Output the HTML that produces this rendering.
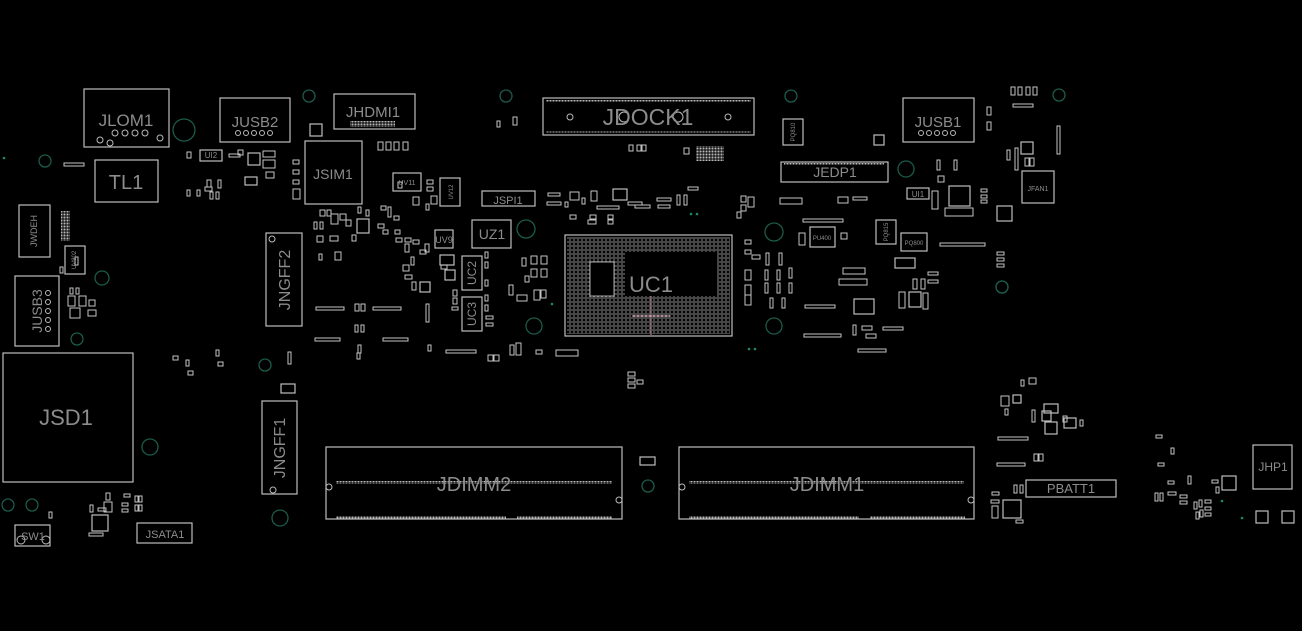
<!DOCTYPE html>
<html><head><meta charset="utf-8"><style>
html,body{margin:0;padding:0;background:#000;}
svg{display:block}
text{font-family:"Liberation Sans",sans-serif;fill:#8c8c8c}
</style></head><body>
<svg width="1302" height="631" viewBox="0 0 1302 631" xmlns="http://www.w3.org/2000/svg">
<defs>
<pattern id="bga" width="4" height="4" patternUnits="userSpaceOnUse"><circle cx="2" cy="2" r="1.2" fill="none" stroke="#aaa" stroke-width="0.6"/></pattern>
<pattern id="pins" width="3" height="3" patternUnits="userSpaceOnUse"><rect x="0.5" y="0.5" width="2" height="2" fill="#bbb"/></pattern>
</defs>
<rect width="1302" height="631" fill="#000"/>
<g fill="none" stroke="#1c5a4a" stroke-width="1.3">
<circle cx="184" cy="130" r="11"/><circle cx="45" cy="161" r="6"/><circle cx="102" cy="278" r="7"/><circle cx="309" cy="96" r="6"/>
<circle cx="506" cy="96" r="6"/><circle cx="791" cy="96" r="6"/><circle cx="1059" cy="95" r="6"/><circle cx="906" cy="169" r="8"/>
<circle cx="526" cy="229" r="9"/><circle cx="774" cy="232" r="9"/><circle cx="534" cy="326" r="8"/><circle cx="774" cy="326" r="8"/>
<circle cx="775" cy="329" r="0"/><circle cx="1002" cy="287" r="6"/><circle cx="265" cy="365" r="6"/><circle cx="150" cy="447" r="8"/>
<circle cx="280" cy="518" r="8"/><circle cx="8" cy="505" r="6"/><circle cx="32" cy="505" r="6"/><circle cx="648" cy="486" r="6"/>
<circle cx="77" cy="339" r="6"/><circle cx="1002" cy="287" r="6"/>
</g>
<g fill="#1c8a6a"><circle cx="4" cy="158" r="1.3"/><circle cx="691" cy="214" r="1.3"/><circle cx="697" cy="214" r="1.3"/><circle cx="552" cy="304" r="1.3"/><circle cx="1222" cy="501" r="1.3"/><circle cx="1242" cy="518" r="1.3"/><circle cx="749" cy="349" r="1.3"/><circle cx="755" cy="349" r="1.3"/></g>
<g fill="none" stroke="#bdbdbd" stroke-width="1.2">
<!-- main connectors -->
<rect x="84" y="89" width="85" height="58"/>
<rect x="220" y="98" width="70" height="44"/>
<rect x="334" y="94" width="81" height="35"/>
<rect x="543" y="98" width="211" height="37"/>
<rect x="903" y="98" width="71" height="44"/>
<rect x="95" y="160" width="63" height="42"/>
<rect x="305" y="141" width="57" height="63"/>
<rect x="781" y="162" width="107" height="20"/>
<rect x="19" y="205" width="31" height="52"/>
<rect x="15" y="276" width="44" height="70"/>
<rect x="266" y="233" width="36" height="93"/>
<rect x="3" y="353" width="130" height="129"/>
<rect x="262" y="401" width="35" height="93"/>
<rect x="326" y="447" width="296" height="72"/>
<rect x="679" y="447" width="295" height="72"/>
<rect x="1026" y="480" width="90" height="17"/>
<rect x="1253" y="445" width="39" height="44"/>
<rect x="15" y="525" width="35" height="21"/>
<rect x="137" y="523" width="55" height="20"/>
<rect x="1022" y="171" width="32" height="32"/>
<rect x="565" y="235" width="167" height="101"/>
<rect x="482" y="191" width="53" height="15"/>
<rect x="472" y="220" width="39" height="28"/>
<rect x="462" y="256" width="20" height="34"/>
<rect x="462" y="297" width="20" height="34"/>
<rect x="435" y="230" width="18" height="18"/>
<rect x="393" y="173" width="28" height="18"/>
<rect x="440" y="178" width="20" height="28"/>
<rect x="200" y="150" width="22" height="11"/>
<rect x="65" y="246" width="20" height="28"/>
<rect x="783" y="119" width="20" height="26"/>
<rect x="907" y="188" width="22" height="11"/>
<rect x="810" y="227" width="25" height="20"/>
<rect x="876" y="220" width="20" height="24"/>
<rect x="901" y="233" width="26" height="18"/>
<rect x="949" y="186" width="21" height="20"/>
<rect x="997" y="206" width="15" height="15"/>
<rect x="895" y="258" width="20" height="10"/>
<rect x="854" y="299" width="20" height="15"/>
<rect x="909" y="292" width="12" height="15"/>
<rect x="1003" y="500" width="18" height="18"/>
<rect x="92" y="515" width="16" height="16"/>
<rect x="1222" y="476" width="14" height="14"/>
<rect x="1256" y="511" width="12" height="12"/><rect x="1282" y="511" width="12" height="12"/>
<rect x="1044" y="404" width="14" height="9"/><rect x="1045" y="422" width="12" height="12"/><rect x="1064" y="418" width="12" height="10"/><rect x="1042" y="411" width="9" height="10"/>
<rect x="1013" y="395" width="8" height="8"/>
<rect x="1021" y="142" width="12" height="12"/>
<rect x="874" y="135" width="10" height="10"/>
<rect x="248" y="153" width="12" height="12"/>
<rect x="310" y="124" width="12" height="12"/>
<rect x="245" y="177" width="12" height="8"/>
<rect x="420" y="282" width="10" height="10"/>
<rect x="357" y="219" width="12" height="14"/>
<rect x="440" y="255" width="14" height="10"/>
<rect x="445" y="270" width="10" height="10"/>
<rect x="613" y="189" width="14" height="11"/>
<rect x="281" y="384" width="14" height="9"/>
<rect x="640" y="457" width="15" height="8"/>
</g>
<!-- UC1 BGA -->
<rect x="567" y="237" width="163" height="97" fill="url(#bga)"/>
<rect x="590" y="262" width="24" height="34" fill="#000" stroke="#aaa" stroke-width="1"/>
<rect x="625" y="252" width="92" height="44" fill="#000"/>
<g stroke="#c89aa8" stroke-width="1"><line x1="651" y1="296" x2="651" y2="335"/><line x1="632" y1="316" x2="670" y2="316"/></g>
<!-- DIMM pins -->
<g fill="url(#pins)">
<rect x="336" y="481" width="276" height="3"/><rect x="336" y="516" width="170" height="3"/><rect x="517" y="516" width="95" height="3"/>
<rect x="689" y="481" width="275" height="3"/><rect x="689" y="516" width="170" height="3"/><rect x="870" y="516" width="95" height="3"/>
<rect x="546" y="100" width="205" height="2"/><rect x="546" y="131" width="205" height="2"/>
<rect x="784" y="163" width="100" height="2"/>
<rect x="696" y="146" width="28" height="15"/>
<rect x="61" y="211" width="9" height="30"/>
<rect x="350" y="121" width="45" height="6"/>
</g>
<g fill="none" stroke="#bbb" stroke-width="1">
<circle cx="329" cy="487" r="3"/><circle cx="619" cy="500" r="3"/><circle cx="682" cy="487" r="3"/><circle cx="971" cy="500" r="3"/>
<circle cx="570" cy="117" r="3"/><circle cx="728" cy="117" r="3"/><circle cx="624" cy="117" r="5"/><circle cx="678" cy="117" r="5"/>
<circle cx="21" cy="540" r="4"/><circle cx="46" cy="540" r="4"/>
<circle cx="272" cy="239" r="3"/><circle cx="273" cy="490" r="3"/>
<circle cx="115" cy="133" r="3"/><circle cx="125" cy="133" r="3"/><circle cx="135" cy="133" r="3"/><circle cx="145" cy="133" r="3"/><circle cx="100" cy="140" r="3"/><circle cx="110" cy="143" r="3"/><circle cx="160" cy="138" r="3"/>
<circle cx="238" cy="133" r="2.5"/><circle cx="246" cy="133" r="2.5"/><circle cx="254" cy="133" r="2.5"/><circle cx="262" cy="133" r="2.5"/><circle cx="270" cy="133" r="2.5"/>
<circle cx="921" cy="133" r="2.5"/><circle cx="929" cy="133" r="2.5"/><circle cx="937" cy="133" r="2.5"/><circle cx="945" cy="133" r="2.5"/><circle cx="953" cy="133" r="2.5"/>
<circle cx="48" cy="293" r="2.5"/><circle cx="48" cy="302" r="2.5"/><circle cx="48" cy="311" r="2.5"/><circle cx="48" cy="320" r="2.5"/><circle cx="48" cy="329" r="2.5"/>
</g>
<!-- small parts -->
<g fill="none" stroke="#c4c4c4" stroke-width="1">
<rect x="64" y="163" width="20" height="3"/><rect x="187" y="152" width="4" height="6"/><rect x="229" y="154" width="11" height="3"/><rect x="238" y="150" width="5" height="5"/>
<rect x="263" y="151" width="12" height="6"/><rect x="263" y="160" width="12" height="8"/><rect x="266" y="172" width="8" height="6"/><rect x="207" y="180" width="4" height="7"/><rect x="218" y="180" width="3" height="8"/><rect x="187" y="190" width="3" height="6"/><rect x="197" y="190" width="3" height="6"/><rect x="205" y="187" width="7" height="4"/><rect x="210" y="192" width="3" height="7"/><rect x="216" y="192" width="3" height="7"/>
<rect x="293" y="160" width="6" height="4"/><rect x="293" y="170" width="6" height="4"/><rect x="293" y="180" width="6" height="4"/><rect x="293" y="189" width="7" height="10"/>
<rect x="378" y="142" width="5" height="8"/><rect x="386" y="142" width="5" height="8"/><rect x="394" y="142" width="5" height="8"/><rect x="403" y="142" width="5" height="8"/>
<rect x="497" y="121" width="3" height="6"/><rect x="513" y="117" width="4" height="8"/>
<rect x="629" y="145" width="4" height="6"/><rect x="637" y="145" width="4" height="6"/><rect x="642" y="145" width="4" height="6"/><rect x="684" y="148" width="5" height="6"/>
<rect x="1011" y="87" width="4" height="8"/><rect x="1018" y="87" width="4" height="8"/><rect x="1026" y="87" width="4" height="8"/><rect x="1033" y="87" width="4" height="8"/><rect x="1013" y="104" width="20" height="3"/>
<rect x="987" y="107" width="4" height="8"/><rect x="987" y="122" width="4" height="8"/><rect x="1057" y="126" width="3" height="28"/>
<rect x="1007" y="150" width="3" height="10"/><rect x="1015" y="148" width="3" height="22"/><rect x="1025" y="158" width="4" height="8"/><rect x="1030" y="158" width="4" height="8"/>
<rect x="937" y="160" width="3" height="10"/><rect x="954" y="160" width="3" height="10"/><rect x="938" y="176" width="6" height="6"/><rect x="981" y="189" width="6" height="3"/><rect x="981" y="195" width="6" height="3"/><rect x="981" y="200" width="6" height="3"/>
<rect x="932" y="191" width="6" height="18"/><rect x="945" y="208" width="28" height="8"/>
<rect x="780" y="198" width="22" height="6"/><rect x="838" y="197" width="10" height="6"/><rect x="853" y="197" width="14" height="3"/>
<rect x="803" y="219" width="40" height="3"/><rect x="799" y="233" width="6" height="12"/><rect x="841" y="233" width="6" height="6"/><rect x="843" y="268" width="22" height="6"/><rect x="839" y="279" width="28" height="6"/>
<rect x="940" y="243" width="45" height="3"/><rect x="997" y="252" width="7" height="3"/><rect x="997" y="258" width="7" height="3"/><rect x="997" y="264" width="7" height="3"/>
<rect x="928" y="272" width="10" height="3"/><rect x="928" y="280" width="10" height="3"/><rect x="913" y="279" width="4" height="10"/><rect x="921" y="279" width="4" height="10"/>
<rect x="899" y="292" width="6" height="16"/><rect x="923" y="293" width="5" height="16"/>
<rect x="805" y="305" width="30" height="3"/><rect x="804" y="334" width="37" height="3"/><rect x="858" y="349" width="28" height="3"/><rect x="862" y="326" width="10" height="4"/><rect x="866" y="334" width="10" height="4"/><rect x="883" y="327" width="20" height="3"/><rect x="853" y="325" width="3" height="10"/>
<rect x="745" y="240" width="6" height="4"/><rect x="745" y="250" width="6" height="4"/><rect x="752" y="255" width="8" height="4"/><rect x="766" y="253" width="3" height="12"/><rect x="779" y="253" width="3" height="12"/><rect x="765" y="270" width="3" height="10"/><rect x="777" y="270" width="3" height="10"/><rect x="789" y="268" width="3" height="10"/><rect x="765" y="283" width="3" height="10"/><rect x="777" y="283" width="3" height="10"/><rect x="789" y="283" width="3" height="10"/><rect x="770" y="298" width="3" height="10"/><rect x="782" y="298" width="3" height="10"/><rect x="745" y="270" width="6" height="10"/><rect x="745" y="285" width="6" height="10"/><rect x="745" y="295" width="6" height="10"/>
<rect x="741" y="196" width="5" height="6"/><rect x="741" y="205" width="5" height="6"/><rect x="748" y="197" width="6" height="10"/><rect x="737" y="212" width="4" height="6"/>
<rect x="688" y="187" width="10" height="3"/><rect x="677" y="195" width="3" height="10"/><rect x="684" y="195" width="3" height="10"/><rect x="657" y="198" width="14" height="3"/><rect x="635" y="205" width="15" height="3"/><rect x="658" y="205" width="12" height="3"/>
<rect x="548" y="193" width="12" height="3"/><rect x="547" y="202" width="14" height="3"/><rect x="565" y="202" width="3" height="5"/><rect x="570" y="192" width="9" height="8"/><rect x="582" y="198" width="3" height="6"/><rect x="591" y="191" width="6" height="10"/><rect x="597" y="206" width="22" height="3"/><rect x="570" y="215" width="6" height="4"/><rect x="590" y="215" width="6" height="4"/><rect x="588" y="220" width="8" height="4"/><rect x="608" y="215" width="5" height="4"/><rect x="608" y="220" width="5" height="4"/><rect x="628" y="202" width="14" height="3"/>
<rect x="522" y="258" width="4" height="8"/><rect x="531" y="256" width="6" height="8"/><rect x="541" y="256" width="6" height="8"/><rect x="531" y="269" width="6" height="8"/><rect x="541" y="269" width="6" height="8"/><rect x="525" y="276" width="4" height="6"/><rect x="509" y="285" width="4" height="10"/><rect x="517" y="295" width="10" height="6"/><rect x="534" y="290" width="6" height="10"/><rect x="541" y="290" width="5" height="8"/>
<rect x="485" y="252" width="3" height="6"/><rect x="485" y="262" width="3" height="6"/><rect x="485" y="280" width="3" height="6"/><rect x="485" y="295" width="3" height="6"/><rect x="485" y="305" width="3" height="6"/><rect x="486" y="316" width="7" height="3"/><rect x="486" y="323" width="7" height="3"/>
<rect x="453" y="290" width="4" height="6"/><rect x="453" y="298" width="4" height="6"/><rect x="452" y="307" width="6" height="3"/>
<rect x="320" y="210" width="5" height="6"/><rect x="327" y="210" width="4" height="6"/><rect x="340" y="214" width="6" height="6"/><rect x="314" y="222" width="3" height="7"/><rect x="320" y="222" width="3" height="7"/><rect x="331" y="214" width="7" height="10"/><rect x="346" y="220" width="5" height="6"/><rect x="317" y="236" width="6" height="6"/><rect x="330" y="236" width="8" height="5"/><rect x="352" y="235" width="4" height="6"/><rect x="319" y="254" width="3" height="6"/><rect x="335" y="252" width="6" height="8"/><rect x="358" y="207" width="3" height="6"/><rect x="366" y="210" width="3" height="6"/>
<rect x="381" y="206" width="5" height="4"/><rect x="388" y="207" width="3" height="10"/><rect x="394" y="216" width="5" height="4"/><rect x="378" y="224" width="6" height="4"/><rect x="383" y="230" width="5" height="4"/><rect x="395" y="230" width="5" height="4"/><rect x="396" y="238" width="6" height="4"/><rect x="405" y="238" width="6" height="4"/><rect x="405" y="244" width="4" height="8"/><rect x="413" y="240" width="6" height="4"/><rect x="420" y="250" width="6" height="4"/><rect x="425" y="244" width="4" height="8"/><rect x="411" y="257" width="3" height="8"/><rect x="403" y="265" width="6" height="6"/><rect x="405" y="275" width="7" height="4"/><rect x="412" y="282" width="4" height="8"/><rect x="441" y="265" width="6" height="4"/>
<rect x="398" y="182" width="4" height="6"/><rect x="427" y="180" width="6" height="4"/><rect x="427" y="187" width="6" height="4"/><rect x="413" y="197" width="6" height="8"/><rect x="431" y="196" width="6" height="8"/><rect x="426" y="204" width="3" height="6"/>
<rect x="316" y="307" width="28" height="3"/><rect x="373" y="307" width="28" height="3"/><rect x="315" y="338" width="25" height="3"/><rect x="383" y="338" width="25" height="3"/><rect x="355" y="304" width="4" height="7"/><rect x="361" y="304" width="4" height="7"/><rect x="355" y="325" width="3" height="7"/><rect x="361" y="325" width="3" height="7"/><rect x="358" y="345" width="3" height="8"/><rect x="357" y="353" width="3" height="6"/><rect x="426" y="304" width="3" height="18"/><rect x="428" y="345" width="3" height="6"/><rect x="446" y="350" width="30" height="3"/><rect x="488" y="355" width="5" height="6"/><rect x="494" y="355" width="5" height="6"/><rect x="510" y="345" width="4" height="10"/><rect x="516" y="343" width="5" height="12"/><rect x="536" y="350" width="6" height="4"/><rect x="556" y="350" width="22" height="6"/><rect x="628" y="372" width="7" height="4"/><rect x="628" y="378" width="7" height="4"/><rect x="628" y="384" width="7" height="4"/><rect x="637" y="380" width="6" height="4"/>
<rect x="173" y="356" width="5" height="4"/><rect x="186" y="360" width="3" height="6"/><rect x="188" y="371" width="5" height="4"/><rect x="216" y="350" width="3" height="6"/><rect x="218" y="362" width="5" height="4"/><rect x="288" y="352" width="3" height="12"/>
<rect x="70" y="250" width="0" height="0"/><rect x="75" y="257" width="3" height="8"/><rect x="60" y="267" width="3" height="6"/><rect x="70" y="288" width="3" height="6"/><rect x="76" y="288" width="3" height="6"/><rect x="68" y="296" width="7" height="10"/><rect x="79" y="296" width="7" height="10"/><rect x="89" y="300" width="6" height="6"/><rect x="70" y="308" width="10" height="10"/><rect x="88" y="310" width="8" height="6"/>
<rect x="49" y="512" width="3" height="6"/><rect x="90" y="505" width="3" height="7"/><rect x="98" y="508" width="8" height="3"/><rect x="104" y="502" width="8" height="10"/><rect x="106" y="493" width="4" height="7"/><rect x="124" y="494" width="6" height="3"/><rect x="122" y="503" width="6" height="3"/><rect x="122" y="509" width="6" height="3"/><rect x="135" y="496" width="3" height="6"/><rect x="139" y="496" width="3" height="6"/><rect x="135" y="505" width="3" height="6"/><rect x="139" y="505" width="3" height="6"/><rect x="89" y="533" width="14" height="3"/>
<rect x="998" y="437" width="30" height="3"/><rect x="997" y="463" width="28" height="3"/><rect x="1034" y="454" width="4" height="7"/><rect x="1039" y="454" width="4" height="7"/><rect x="1021" y="380" width="3" height="6"/><rect x="1029" y="378" width="7" height="6"/><rect x="1001" y="396" width="8" height="10"/><rect x="1005" y="409" width="3" height="6"/><rect x="1032" y="410" width="3" height="12"/><rect x="1063" y="416" width="4" height="6"/><rect x="1080" y="420" width="3" height="6"/>
<rect x="992" y="492" width="7" height="3"/><rect x="991" y="500" width="8" height="3"/><rect x="992" y="506" width="6" height="12"/><rect x="1014" y="485" width="3" height="8"/><rect x="1020" y="485" width="3" height="8"/><rect x="1016" y="520" width="7" height="3"/>
<rect x="1156" y="435" width="6" height="3"/><rect x="1171" y="448" width="3" height="6"/><rect x="1158" y="463" width="6" height="3"/><rect x="1168" y="481" width="6" height="3"/><rect x="1188" y="476" width="3" height="8"/><rect x="1155" y="493" width="3" height="8"/><rect x="1160" y="493" width="3" height="8"/><rect x="1168" y="492" width="8" height="3"/><rect x="1180" y="495" width="7" height="3"/><rect x="1180" y="501" width="7" height="3"/><rect x="1194" y="502" width="3" height="7"/><rect x="1199" y="500" width="3" height="7"/><rect x="1205" y="500" width="6" height="3"/><rect x="1205" y="507" width="6" height="3"/><rect x="1205" y="513" width="6" height="3"/><rect x="1196" y="512" width="3" height="7"/><rect x="1200" y="510" width="3" height="7"/><rect x="1212" y="480" width="6" height="3"/><rect x="1216" y="487" width="3" height="6"/>
</g>
<!-- labels -->
<g text-anchor="middle">
<text x="126" y="126" font-size="17">JLOM1</text>
<text x="255" y="127" font-size="15">JUSB2</text>
<text x="373" y="117" font-size="15">JHDMI1</text>
<text x="648" y="125" font-size="23">JDOCK1</text>
<text x="938" y="127" font-size="15">JUSB1</text>
<text x="126" y="189" font-size="20">TL1</text>
<text x="333" y="179" font-size="14">JSIM1</text>
<text x="835" y="177" font-size="14">JEDP1</text>
<text x="508" y="204" font-size="11">JSPI1</text>
<text x="492" y="239" font-size="14">UZ1</text>
<text x="651" y="292" font-size="22">UC1</text>
<text x="66" y="425" font-size="22">JSD1</text>
<text x="474" y="491" font-size="20">JDIMM2</text>
<text x="827" y="491" font-size="20">JDIMM1</text>
<text x="1071" y="493" font-size="13">PBATT1</text>
<text x="1273" y="471" font-size="12">JHP1</text>
<text x="33" y="540" font-size="11">SW1</text>
<text x="165" y="538" font-size="11">JSATA1</text>
<text x="1038" y="191" font-size="7">JFAN1</text>
<text x="211" y="158" font-size="8">UI2</text>
<text x="918" y="197" font-size="8">UI1</text>
<text x="407" y="185" font-size="7">UV11</text>
<text x="444" y="243" font-size="9">UV9</text>
<text x="822" y="240" font-size="6">PU400</text>
<text x="914" y="245" font-size="6">PQ800</text>
</g>
<g text-anchor="middle">
<text transform="translate(290,280) rotate(-90)" font-size="16">JNGFF2</text>
<text transform="translate(285,448) rotate(-90)" font-size="16">JNGFF1</text>
<text transform="translate(42,311) rotate(-90)" font-size="14">JUSB3</text>
<text transform="translate(476,273) rotate(-90)" font-size="12">UC2</text>
<text transform="translate(476,314) rotate(-90)" font-size="12">UC3</text>
<text transform="translate(37,231) rotate(-90)" font-size="9">JWDEH</text>
<text transform="translate(76,260) rotate(-90)" font-size="6">UV802</text>
<text transform="translate(453,192) rotate(-90)" font-size="6">UV12</text>
<text transform="translate(795,132) rotate(-90)" font-size="6">PQ810</text>
<text transform="translate(888,232) rotate(-90)" font-size="6">PQ815</text>
</g>
</svg>
</body></html>
